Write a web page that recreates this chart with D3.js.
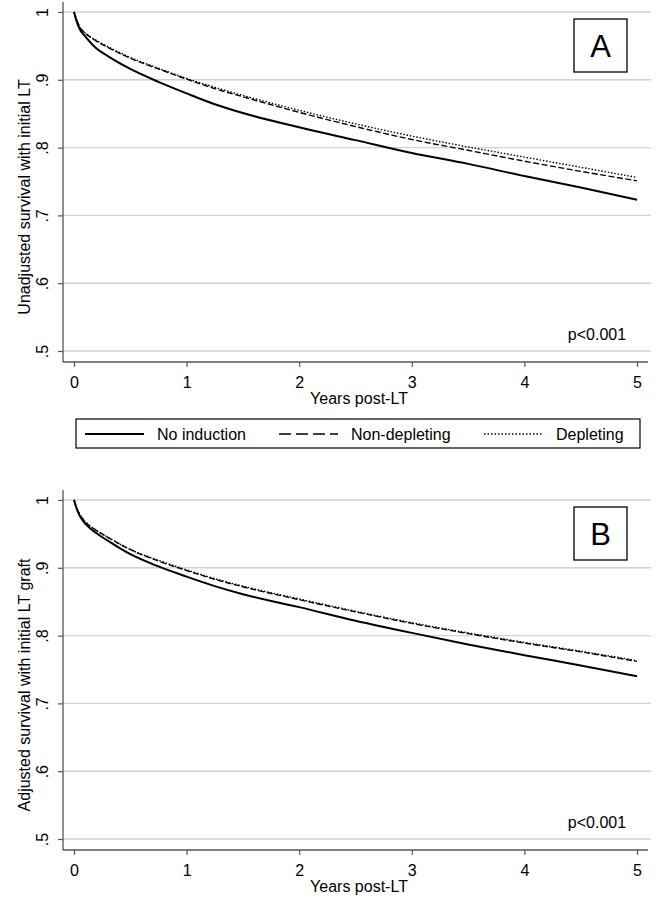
<!DOCTYPE html>
<html><head><meta charset="utf-8">
<script src="https://cdn.jsdelivr.net/npm/d3@7"></script>
<style>body{margin:0;background:#fff}svg{display:block}text{font-family:"Liberation Sans",Arial,sans-serif;fill:#000}</style>
</head><body><svg id="c" width="667" height="900"></svg>
<script>
const years = [0,0.02,0.05,0.1,0.2,0.3,0.5,0.75,1,1.25,1.5,2,2.5,3,3.5,4,4.5,5];
const aNoInduction   = [1,0.988,0.975,0.964,0.946,0.935,0.916,0.897,0.88,0.864,0.851,0.83,0.811,0.792,0.776,0.758,0.741,0.723];
const aNonDepleting  = [1,0.99,0.978,0.969,0.957,0.948,0.932,0.916,0.901,0.887,0.875,0.852,0.831,0.812,0.796,0.78,0.765,0.751];
const aDepleting     = [1,0.99,0.978,0.969,0.958,0.949,0.933,0.917,0.902,0.889,0.877,0.855,0.835,0.817,0.801,0.786,0.771,0.756];
const bNoInduction   = [1,0.989,0.977,0.965,0.951,0.94,0.92,0.902,0.887,0.873,0.861,0.842,0.822,0.804,0.787,0.771,0.756,0.74];
const bNonDepleting  = [1,0.99,0.979,0.968,0.955,0.945,0.927,0.91,0.896,0.883,0.872,0.853,0.835,0.818,0.803,0.789,0.776,0.762];
const bDepleting     = [1,0.99,0.979,0.968,0.955,0.945,0.927,0.911,0.897,0.884,0.873,0.854,0.836,0.819,0.804,0.79,0.777,0.763];
const seriesNames = ["No induction","Non-depleting","Depleting"];
const yTicks = [0.5,0.6,0.7,0.8,0.9,1];
const yTickLabels = [".5",".6",".7",".8",".9","1"];
const xTicks = [0,1,2,3,4,5];
const xTitle = "Years post-LT";
const panels = [
  {letter:"A", ytitle:"Unadjusted survival with initial LT", series:[aNoInduction,aNonDepleting,aDepleting]},
  {letter:"B", ytitle:"Adjusted survival with initial LT graft", series:[bNoInduction,bNonDepleting,bDepleting]}
];
const pValue = "p<0.001";

const styles = [
  {w:2, dash:null},
  {w:1.4, dash:"6,2.5"},
  {w:1.4, dash:"1.5,1.8"}
];
const legendDash = [null,"12,5","1.5,2"];

const FS = 16;
const svg = d3.select("#c");
const tops = [12, 500];
const x = d3.scaleLinear().domain([0,5]).range([74,637]);
const axisX0 = 63, axisX1 = 648;

panels.forEach((p,i)=>{
  const top = tops[i];
  const y = d3.scaleLinear().domain([0.5,1]).range([top+339, top]);
  const g = svg.append("g");
  const bottom = top + 350;
  g.selectAll("line.grid").data(yTicks).join("line")
    .attr("x1",axisX0).attr("x2",axisX1+3)
    .attr("y1",d=>y(d)).attr("y2",d=>y(d))
    .attr("stroke","#d2d2d2").attr("stroke-width",1.4);
  const ya = g.append("g").attr("transform",`translate(${axisX0},0)`)
    .call(d3.axisLeft(y).tickValues(yTicks).tickFormat((d,k)=>yTickLabels[k]).tickSize(5).tickSizeOuter(0));
  ya.select(".domain").remove();
  ya.selectAll(".tick line").attr("stroke","#555").attr("stroke-width",1.2);
  ya.selectAll(".tick text").attr("font-size",FS).attr("x",null).attr("dy",null)
    .attr("transform","translate(-15,0) rotate(-90)").attr("text-anchor","middle")
    .style("font-family","'Liberation Sans', Arial, sans-serif");
  g.append("line").attr("x1",axisX0).attr("x2",axisX0).attr("y1",top-10).attr("y2",bottom)
    .attr("stroke","#555").attr("stroke-width",1.3);
  const xa = g.append("g").attr("transform",`translate(0,${bottom})`)
    .call(d3.axisBottom(x).tickValues(xTicks).tickFormat(d3.format("d")).tickSize(5).tickSizeOuter(0));
  xa.select(".domain").remove();
  xa.selectAll(".tick line").attr("stroke","#555").attr("stroke-width",1.2);
  xa.selectAll(".tick text").attr("font-size",FS).attr("y",26).attr("dy",null)
    .style("font-family","'Liberation Sans', Arial, sans-serif");
  g.append("line").attr("x1",axisX0).attr("x2",axisX1).attr("y1",bottom).attr("y2",bottom)
    .attr("stroke","#555").attr("stroke-width",1.3);
  g.append("text").attr("x",359).attr("y",bottom+42).attr("text-anchor","middle")
    .attr("font-size",FS).text(xTitle);
  g.append("text").attr("transform",`translate(30,${(top+bottom)/2+10}) rotate(-90)`).attr("text-anchor","middle")
    .attr("font-size",FS).text(p.ytitle);
  const line = d3.line().x((d,k)=>x(years[k])).y(d=>y(d)).curve(d3.curveMonotoneX);
  [2,1,0].forEach(s=>{
    g.append("path").datum(p.series[s]).attr("d",line).attr("fill","none")
      .attr("stroke","#000").attr("stroke-width",styles[s].w)
      .attr("stroke-dasharray",styles[s].dash);
  });
  g.append("rect").attr("x",574).attr("y",top+7).attr("width",53).attr("height",53)
    .attr("fill","#fff").attr("stroke","#000").attr("stroke-width",1.3);
  g.append("text").attr("x",600.5).attr("y",top+45).attr("text-anchor","middle").attr("font-size",31).text(p.letter);
  g.append("text").attr("x",597).attr("y",bottom-22).attr("text-anchor","middle").attr("font-size",FS).text(pValue);
});

const lg = svg.append("g");
lg.append("rect").attr("x",76).attr("y",419).attr("width",564).attr("height",29)
  .attr("fill","#fff").attr("stroke","#000").attr("stroke-width",1.2);
const legX = [85,279,484];
seriesNames.forEach((n,k)=>{
  lg.append("line").attr("x1",legX[k]).attr("x2",legX[k]+59).attr("y1",434).attr("y2",434)
    .attr("stroke","#000").attr("stroke-width",styles[k].w).attr("stroke-dasharray",legendDash[k]);
  lg.append("text").attr("x",legX[k]+72).attr("y",440).attr("font-size",FS).text(n);
});
</script></body></html>
